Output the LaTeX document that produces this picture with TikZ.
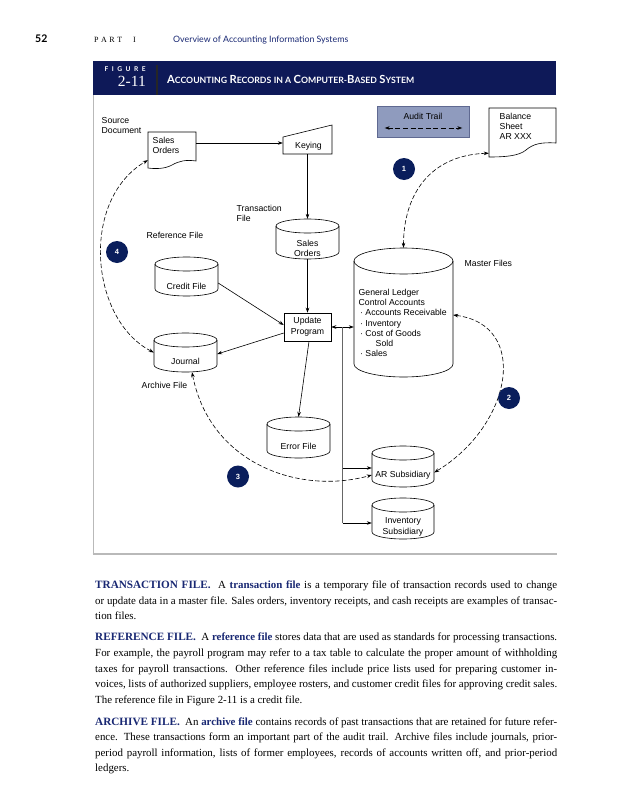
\documentclass[tikz,border=0pt]{standalone}
\usepackage{fontspec}
\setmainfont{Liberation Serif}
\setsansfont{Liberation Sans}
\newfontfamily\gill{Lato}
\usetikzlibrary{arrows.meta,calc}
\definecolor{navy}{RGB}{14,25,88}
\definecolor{circ}{RGB}{10,30,92}
\definecolor{headblue}{RGB}{25,40,115}
\definecolor{framegray}{RGB}{185,185,185}
\definecolor{auditfill}{RGB}{143,155,190}
\definecolor{auditdraw}{RGB}{95,105,145}
\newcommand\mysc[2]{{\fontsize{11.2}{12}\selectfont #1}{\fontsize{8.7}{12}\selectfont #2}}
\newcommand\parhead[1]{{\color{headblue}\bfseries\fontsize{11.2}{13}\selectfont #1}}
\newcommand\keyw[1]{{\color{headblue}\bfseries #1}}
\tikzset{
  lbl/.style={font=\sffamily\fontsize{8.7}{10.6}\selectfont, inner sep=0pt, align=left},
  arr/.style={-{Stealth[length=5pt,width=3.6pt]}},
  conn/.style={draw, line width=0.6pt, arr},
  dconn/.style={draw, line width=0.6pt, dash pattern=on 4.5pt off 2.2pt,
     {Stealth[length=5pt,width=3.6pt]}-{Stealth[length=5pt,width=3.6pt]}},
  num/.style={circle, fill=circ, text=white, minimum size=22pt, inner sep=0pt,
     font=\sffamily\bfseries\fontsize{7.5}{8}\selectfont},
  cylshape/.style={draw, line width=0.6pt, fill=white},
  area/.style={inner sep=0pt, draw=none},
  bodyline/.style={anchor=base west, inner sep=0pt, font=\fontsize{10.9}{13}\selectfont},
}
% name, L, R, T, B, ry
\newcommand\cylnode[6]{%
  \draw[cylshape] (#2,#4+#6) -- (#2,#5-#6)
     arc[start angle=180,end angle=0,x radius={(#3-#2)/2},y radius=#6]
     -- (#3,#4+#6)
     arc[start angle=0,end angle=-180,x radius={(#3-#2)/2},y radius=#6] -- cycle;
  \draw[cylshape,fill=none] (#2,#4+#6)
     arc[start angle=180,end angle=0,x radius={(#3-#2)/2},y radius=#6];
  \node[area, minimum width={(#3-#2)*1pt}, minimum height={(#5-#4)*1pt}] (#1)
     at ({(#2+#3)/2},{(#4+#5)/2}) {};
}
\begin{document}
\begin{tikzpicture}[x=1pt,y=-1pt]
\useasboundingbox[fill=white] (0,0) rectangle (639,800);

% ---------- page header ----------
\node[anchor=base west, inner sep=0pt, font=\gill\bfseries\fontsize{10.5}{11}\selectfont] (pg) at (35,42.5) {52};
\node[anchor=base west, inner sep=0pt, font=\rmfamily\fontsize{8}{10}\selectfont] (part) at (94,42.5) {\makebox[28pt][s]{P A R T}};
\node[anchor=base west, inner sep=0pt, font=\rmfamily\fontsize{8}{10}\selectfont] (parti) at (133,42.5) {I};
\node[anchor=base west, inner sep=0pt, text=headblue, font=\gill\fontsize{8.8}{10}\selectfont] (chap) at (173,42.5) {Overview of Accounting Information Systems};

% ---------- figure band ----------
\node[fill=navy, inner sep=0pt, minimum width=463pt, minimum height=34pt, anchor=north west] (band) at (93,61) {};
\draw[line width=1.3pt, black!85] (157,65) -- (157,95);
\node[anchor=base west, inner sep=0pt, text=white, font=\gill\bfseries\fontsize{6.6}{7}\selectfont] (figw) at (104.5,71.8) {\makebox[41pt][s]{F I G U R E}};
\node[anchor=base east, inner sep=0pt, text=white, font=\rmfamily\fontsize{15.5}{16}\selectfont] (fignum) at (146,86.5) {2-11};
\node[anchor=base west, inner sep=0pt, text=white, font=\gill\bfseries] (title) at (167,83)
  {\mysc{A}{CCOUNTING} \mysc{R}{ECORDS} {\fontsize{8.7}{12}\selectfont IN A} \mysc{C}{OMPUTER-}\mysc{B}{ASED} \mysc{S}{YSTEM}};
\draw[framegray, line width=1pt] (93,95) -- (93,554);
\draw[framegray, line width=2pt] (92.5,553.5) -- (557,553.5);

% ---------- labels ----------
\node[lbl, anchor=west] (srcdoc) at (101.5,125.5) {Source\\Document};
\node[lbl, anchor=west] (transf) at (236.5,213.5) {Transaction\\File};
\node[lbl, anchor=west] (reff) at (146.5,235) {Reference File};
\node[lbl, anchor=west] (archf) at (141.5,385) {Archive File};
\node[lbl, anchor=west] (mastf) at (464.5,263) {Master Files};

% ---------- sales order document ----------
\draw[cylshape] (148,132) -- (196,132) -- (196,161)
   .. controls (186,159.5) and (179,161) .. (172,165)
   .. controls (165,169) and (155,169) .. (148,168) -- cycle;
\node[area, minimum width=48pt, minimum height=36pt] (sdoc) at (172,150) {};
\node[lbl, anchor=west] (sdoct) at (152.5,145.5) {Sales\\Orders};

% ---------- keying ----------
\draw[cylshape] (283,137) -- (332,125) -- (332,154) -- (283,154) -- cycle;
\node[area, minimum width=49pt, minimum height=29pt] (keying) at (307.5,139.5) {};
\node[lbl] (keyingt) at (308.5,146) {Keying};

% ---------- audit trail ----------
\node[draw=auditdraw, fill=auditfill, line width=0.6pt, inner sep=0pt, minimum width=92pt, minimum height=31pt] (audit) at (423,121.5) {};
\node[lbl] (auditt) at (423,116.5) {Audit Trail};
\draw[draw=black, line width=0.8pt, dash pattern=on 5pt off 2.6pt, {Stealth[length=5pt,width=3.6pt]}-{Stealth[length=5pt,width=3.6pt]}]
   ([xshift=8pt,yshift=-6.5pt]audit.west) -- ([xshift=-7pt,yshift=-6.5pt]audit.east);

% ---------- balance sheet ----------
\draw[cylshape] (489,108) -- (556,108) -- (556,143)
   .. controls (541,142) and (533,144) .. (526,150)
   .. controls (519,156) and (505,157) .. (489,157) -- cycle;
\node[area, minimum width=67pt, minimum height=49pt] (bsheet) at (522.5,132.5) {};
\node[lbl, anchor=west, font=\sffamily\fontsize{8.7}{10}\selectfont] (bsheett) at (499.5,126) {Balance\\Sheet\\AR XXX};

% ---------- cylinders ----------
\cylnode{sorders}{276}{339}{219}{259}{7}
\node[lbl, align=center] (sorderst) at (307.5,248.5) {Sales\\Orders};
\cylnode{credit}{155}{218}{257}{296}{7}
\node[lbl] (creditt) at (186.5,286) {Credit File};
\cylnode{journal}{154}{217}{333}{372}{7}
\node[lbl] (journalt) at (185.5,361) {Journal};
\cylnode{master}{354}{453}{248}{377}{13}
\node[lbl, anchor=north west, font=\sffamily\fontsize{8.7}{10.2}\selectfont] (mastert) at (358.5,289)
  {General Ledger\\Control Accounts\\\,{\textperiodcentered} Accounts Receivable\\\,{\textperiodcentered} Inventory\\\,{\textperiodcentered} Cost of Goods\\\hspace*{17pt}Sold\\\,{\textperiodcentered} Sales};
\cylnode{errf}{267}{330}{417}{458}{7}
\node[lbl] (errft) at (298.5,446) {Error File};
\cylnode{arsub}{372}{434}{446}{487}{7}
\node[lbl] (arsubt) at (403,475) {AR Subsidiary};
\cylnode{invsub}{372}{434}{498}{539}{7}
\node[lbl, align=center] (invsubt) at (403,527) {Inventory\\Subsidiary};

% ---------- update program ----------
\node[draw, line width=0.6pt, fill=white, inner sep=0pt, minimum width=47pt, minimum height=28pt,
      lbl, align=center] (upd) at (307.5,327) {Update\\Program};

% ---------- solid connectors ----------
\draw[conn] ([yshift=7pt]sdoc.east) -- ([yshift=-3.5pt]keying.west);
\draw[conn] (keying.south) -- (sorders.north);
\draw[conn] (sorders.south) -- (upd.north);
\draw[conn] ([yshift=-6.5pt]credit.east) -- ([yshift=2pt]upd.west);
\draw[conn] ([yshift=-6pt]upd.west) -- ([yshift=-1.5pt]journal.east);
\draw[conn] ([xshift=1.5pt]upd.south) -- (errf.north);
\coordinate (mastin) at ([yshift=-14.5pt]master.west);
\draw[line width=0.6pt, {Stealth[length=5pt,width=3.6pt]}-{Stealth[length=5pt,width=3.6pt]}] (upd.east) -- (mastin);
\coordinate (junc) at ($(upd.east)!0.5!(mastin)$);
\coordinate (arin) at ([yshift=-1.5pt]arsub.west);
\coordinate (invin) at ([yshift=-4.5pt]invsub.west);
\draw[black!60, line width=1.1pt] (junc) -- (junc |- invin);
\draw[conn] (junc |- arin) -- (arin);
\draw[conn] (junc |- invin) -- (invin);

% ---------- dashed audit-trail connectors ----------
\draw[dconn] (master.north) .. controls +(0,-53) and +(-59,2) .. ([yshift=4pt]bsheet.south west);
\draw[dconn] ([yshift=-2.5pt]master.east) .. controls +(77,10) and +(78,-47) .. ([yshift=-6pt]arsub.east);
\draw[dconn] ([xshift=6.5pt]journal.south) .. controls +(18,92) and +(-72,20) .. ([yshift=-8.5pt]arsub.west);
\draw[dconn] (journal.west) .. controls +(-64,-33) and +(-68,40) .. ([yshift=8pt]sdoc.south west);

% ---------- numbered circles ----------
\node[num] (c1) at (404,169) {1};
\node[num] (c2) at (509,398) {2};
\node[num] (c3) at (238,476.5) {3};
\node[num] (c4) at (117,252) {4};

% ---------- body text ----------
\node[bodyline] (p1a) at (95,588.5) {\makebox[462pt][s]{\parhead{TRANSACTION FILE.}\ \ A \keyw{transaction file} is a temporary file of transaction records used to change}};
\node[bodyline] (p1b) at (95,604.5) {\makebox[462pt][s]{or update data in a master file. Sales orders, inventory receipts, and cash receipts are examples of transac-}};
\node[bodyline] (p1c) at (95,619.5) {tion files.};
\node[bodyline] (p2a) at (95,640.5) {\makebox[462pt][s]{\parhead{REFERENCE FILE.}\ \ A \keyw{reference file} stores data that are used as standards for processing transactions.}};
\node[bodyline] (p2b) at (95,656.5) {\makebox[462pt][s]{For example, the payroll program may refer to a tax table to calculate the proper amount of withholding}};
\node[bodyline] (p2c) at (95,672.5) {\makebox[462pt][s]{taxes for payroll transactions. Other reference files include price lists used for preparing customer in-}};
\node[bodyline] (p2d) at (95,687.5) {\makebox[462pt][s]{voices, lists of authorized suppliers, employee rosters, and customer credit files for approving credit sales.}};
\node[bodyline] (p2e) at (95,703.5) {The reference file in Figure 2-11 is a credit file.};
\node[bodyline] (p3a) at (95,725.5) {\makebox[462pt][s]{\parhead{ARCHIVE FILE.}\ \ An \keyw{archive file} contains records of past transactions that are retained for future refer-}};
\node[bodyline] (p3b) at (95,740.5) {\makebox[462pt][s]{ence. These transactions form an important part of the audit trail. Archive files include journals, prior-}};
\node[bodyline] (p3c) at (95,756.5) {\makebox[462pt][s]{period payroll information, lists of former employees, records of accounts written off, and prior-period}};
\node[bodyline] (p3d) at (95,771.5) {ledgers.};
\end{tikzpicture}
\end{document}
